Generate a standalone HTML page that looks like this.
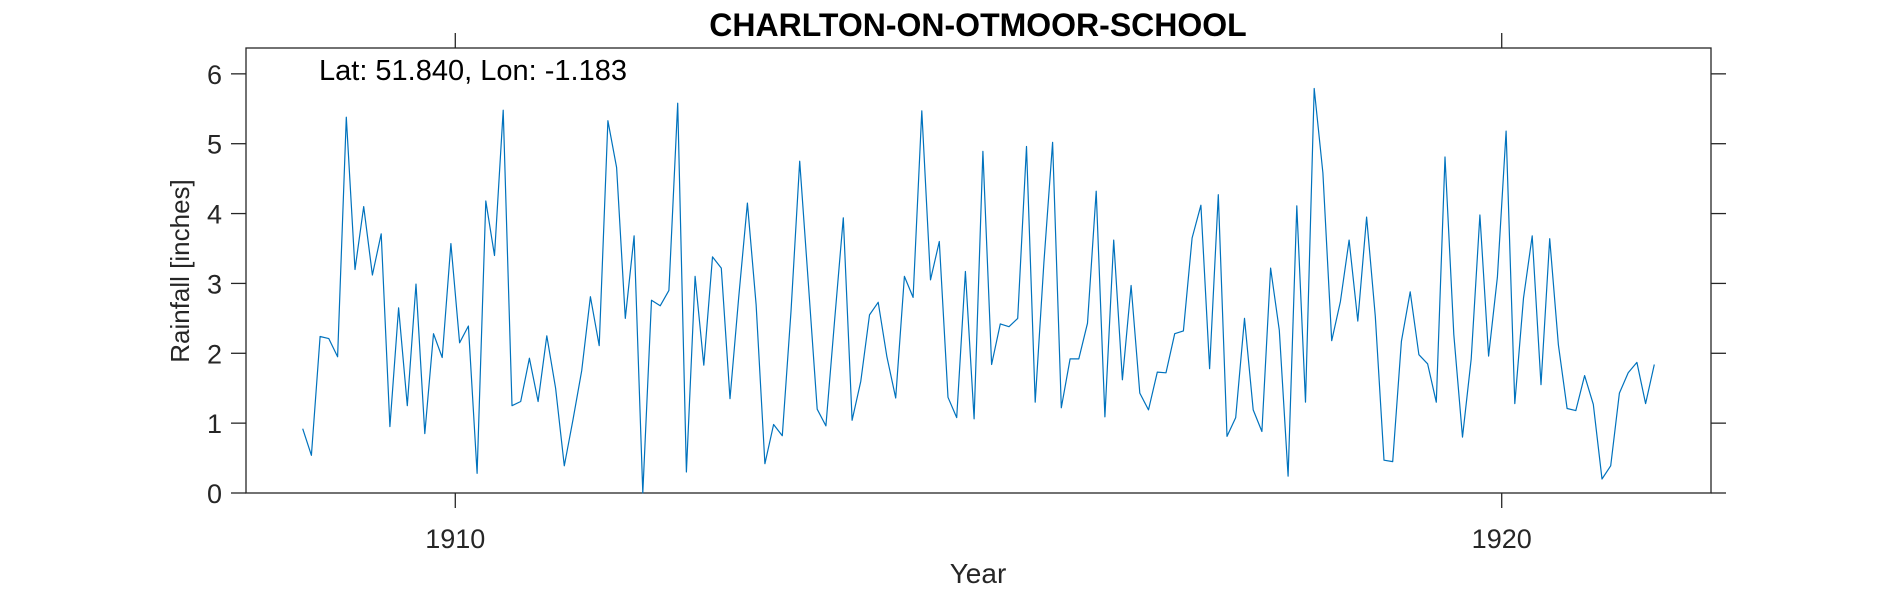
<!DOCTYPE html>
<html><head><meta charset="utf-8"><style>
html,body{margin:0;padding:0;background:#fff;}
svg{display:block;font-family:"Liberation Sans",Helvetica,sans-serif;}
</style></head><body>
<svg id="chart" width="1890" height="591">
<text x="978" y="36" text-anchor="middle" font-size="32" font-weight="bold" fill="#000">CHARLTON-ON-OTMOOR-SCHOOL</text>
<text x="319" y="80" font-size="29" fill="#000">Lat: 51.840, Lon: -1.183</text>
<text transform="translate(189,271) rotate(-90)" text-anchor="middle" font-size="26" fill="#262626">Rainfall [inches]</text>
<text x="978" y="583" text-anchor="middle" font-size="28" fill="#262626">Year</text>
<g id="axes"></g>
</svg>
<script>
const values = [0.92,0.54,2.24,2.21,1.95,5.38,3.2,4.1,3.12,3.71,
0.95,2.65,1.25,2.99,0.85,2.28,1.94,3.57,2.15,2.39,
0.28,4.18,3.4,5.48,1.25,1.31,1.93,1.31,2.25,1.5,
0.39,1.05,1.75,2.81,2.11,5.33,4.66,2.5,3.68,0,
2.76,2.68,2.9,5.58,0.3,3.1,1.83,3.38,3.22,1.35,
2.8,4.15,2.7,0.42,0.98,0.82,2.6,4.75,2.97,1.2,
0.96,2.47,3.94,1.04,1.6,2.55,2.73,1.95,1.36,3.1,
2.8,5.47,3.05,3.6,1.37,1.08,3.17,1.06,4.89,1.84,
2.42,2.38,2.5,4.96,1.3,3.3,5.02,1.22,1.92,1.92,
2.43,4.32,1.09,3.62,1.62,2.97,1.43,1.19,1.73,1.72,
2.28,2.32,3.65,4.12,1.78,4.27,0.81,1.08,2.5,1.19,
0.88,3.22,2.33,0.24,4.11,1.3,5.79,4.58,2.18,2.74,
3.62,2.46,3.95,2.53,0.47,0.45,2.17,2.88,1.98,1.85,
1.3,4.81,2.27,0.8,1.92,3.98,1.96,3.09,5.18,1.28,
2.79,3.68,1.55,3.64,2.12,1.21,1.18,1.68,1.27,0.2,
0.39,1.43,1.72,1.87,1.28,1.84];
const startYear = 1908;
const startMonth = 7;
const xTickLabels = [1910, 1920];
const yTickLabels = [0,1,2,3,4,5,6];
const xDomain = [1908, 1922];
const yDomain = [0, 6.37];

const L=246,R=1711,T=48,B=493;
const xs = v => L + (v - xDomain[0]) / (xDomain[1]-xDomain[0]) * (R-L);
const ys = v => B - (v - yDomain[0]) / (yDomain[1]-yDomain[0]) * (B-T);
const NS='http://www.w3.org/2000/svg';
const g=document.getElementById('axes');
function mk(tag, attrs){const e=document.createElementNS(NS,tag);for(const k in attrs)e.setAttribute(k,attrs[k]);g.appendChild(e);return e;}

const box=mk('rect',{x:L,y:T,width:R-L,height:B-T,fill:'none',stroke:'#262626','stroke-width':1.3});



yTickLabels.forEach(v=>{
  const y=ys(v);
  const t1=mk('line',{x1:L-15,x2:L,y1:y,y2:y,stroke:'#262626','stroke-width':1.3});
  
  
  const t2=mk('line',{x1:R,x2:R+15,y1:y,y2:y,stroke:'#262626','stroke-width':1.3});
  
  
  const lb=mk('text',{x:L-24,y:y+10,'text-anchor':'end','font-size':27,fill:'#262626'});
  lb.textContent=v;
  
  
});
xTickLabels.forEach(v=>{
  const x=xs(v);
  const t1=mk('line',{x1:x,x2:x,y1:B,y2:B+15,stroke:'#262626','stroke-width':1.3});
  
  
  const t2=mk('line',{x1:x,x2:x,y1:T-15,y2:T,stroke:'#262626','stroke-width':1.3});
  
  
  const lb=mk('text',{x:x,y:B+55,'text-anchor':'middle','font-size':27,fill:'#262626'});
  lb.textContent=v;
  
  
});
const pts=values.map((v,i)=>{const t=startYear+(startMonth-1+i+0.5)/12;return xs(t).toFixed(1)+','+ys(v).toFixed(1);});
const line=mk('polyline',{points:pts.join(' '),fill:'none',stroke:'#0072BD','stroke-width':1.2,'stroke-linejoin':'round'});


</script>
</body></html>
